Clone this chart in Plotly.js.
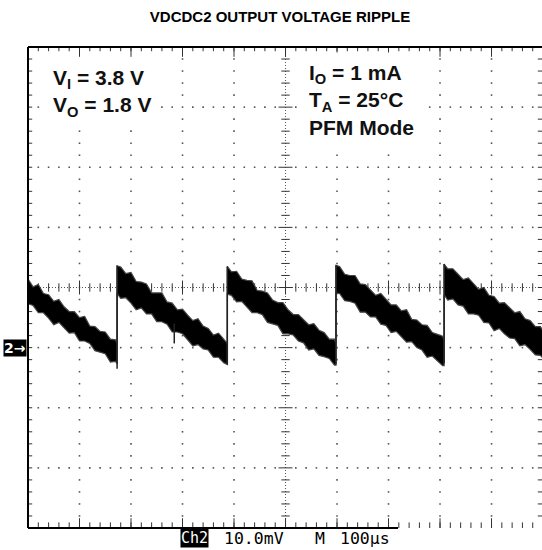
<!DOCTYPE html>
<html><head><meta charset="utf-8">
<script src="https://cdn.plot.ly/plotly-3.0.1.min.js"></script>
<style>html,body{margin:0;padding:0;background:#fff}</style>
</head><body><div id="chart" style="width:542px;height:550px"></div>
<script>
// ---- Data (time in µs, voltage in mV; 10 mV/div, 100 µs/div) ----
// Upper and lower edge of the noisy ripple band, one sawtooth segment per line.
const envTime = [
  0, 10, 20, 30, 40, 50, 60, 70, 80, 90, 100, 110, 120, 130, 140, 150, 160, 170, 173,
  173, 180, 190, 200, 210, 220, 230, 240, 250, 260, 270, 280, 290, 300, 310, 320, 330, 340, 350, 360, 370, 380, 387,
  387, 395, 405, 415, 425, 435, 445, 455, 465, 475, 485, 495, 505, 515, 525, 535, 545, 555, 565, 575, 585, 595, 598,
  598, 605, 615, 625, 635, 645, 655, 665, 675, 685, 695, 705, 715, 725, 735, 745, 755, 765, 775, 785, 795, 805, 808,
  808, 815, 825, 835, 845, 855, 865, 875, 885, 895, 905, 915, 925, 935, 945, 955, 965, 975, 985, 995, 998];
const envUpper = [
  1.4, 0.1, 0.5, -1.0, -1.2, -2.3, -2.0, -3.2, -4.0, -4.0, -5.0, -4.8, -6.4, -6.5, -7.3, -7.4, -8.6, -8.7, -9.3,
  3.6, 3.4, 2.3, 2.5, 1.0, 0.9, 0.6, -0.9, -0.9, -0.9, -2.4, -2.6, -3.7, -3.6, -4.6, -5.5, -5.2, -6.4, -6.8, -7.9, -7.6, -8.7, -9.3,
  3.5, 2.6, 2.7, 1.4, 1.2, 1.1, -0.5, -0.6, -0.9, -2.1, -2.5, -2.5, -3.7, -4.5, -4.5, -5.3, -6.2, -6.0, -7.1, -7.5, -8.6, -8.6, -9.3,
  3.7, 3.5, 2.2, 2.0, 2.0, 0.6, 0.5, -0.4, -1.3, -1.0, -2.0, -2.9, -2.9, -3.9, -3.7, -5.3, -5.4, -6.2, -6.3, -7.5, -7.8, -8.1, -8.8,
  3.9, 3.1, 3.1, 2.2, 1.3, 1.6, 0.6, -0.3, 0.0, -1.3, -1.5, -2.6, -2.5, -3.4, -4.2, -4.0, -5.2, -5.5, -6.5, -6.5, -7.0];
const envLower = [
  -2.7, -3.0, -4.2, -4.2, -5.1, -6.2, -5.8, -6.7, -7.6, -7.5, -8.9, -8.9, -9.3, -10.5, -10.7, -11.0, -12.4, -12.3, -12.7,
  -1.0, -1.8, -1.7, -2.6, -3.7, -3.4, -4.4, -4.4, -5.7, -5.7, -6.1, -7.4, -7.4, -7.7, -8.8, -9.7, -9.5, -10.2, -10.4, -11.6, -11.6, -12.5, -12.8,
  -1.1, -1.3, -2.4, -2.3, -3.3, -4.2, -4.2, -4.5, -5.8, -6.0, -6.3, -7.7, -7.7, -7.9, -8.9, -9.2, -10.4, -10.2, -11.3, -11.5, -11.8, -12.9, -12.9,
  -0.9, -1.0, -2.2, -2.3, -2.6, -4.1, -4.1, -4.9, -4.9, -6.1, -6.3, -7.5, -7.3, -8.2, -9.1, -9.0, -10.0, -10.4, -11.6, -11.4, -12.2, -13.0, -13.0,
  -1.2, -2.1, -1.9, -2.9, -3.1, -4.4, -4.4, -4.6, -5.8, -5.9, -7.2, -6.8, -7.7, -8.4, -8.5, -9.7, -9.5, -10.3, -11.2, -11.3, -11.6];
// Switching edges (vertical jumps) and an isolated noise spike
const jumpTime = [173, 387, 598, 808];
const jumpLow  = [-13.5, -12.8, -12.8, -12.6];
const jumpHigh = [3.6, 3.5, 3.7, 3.9];
const spikeTime = [284];
const spikeLow  = [-9.3];
const spikeHigh = [-6.0];

// ---- Scope labels ----
const titleText = 'VDCDC2 OUTPUT VOLTAGE RIPPLE';
const condLeft  = 'V<sub>I</sub> = 3.8 V<br>V<sub>O</sub> = 1.8 V';
const condRight = 'I<sub>O</sub> = 1 mA<br>T<sub>A</sub> = 25°C<br>PFM Mode';
const chLabel = 'Ch2', voltsDiv = '10.0mV', timeLabelM = 'M', timeDiv = '100µs';
const groundMarker = '2→';
const groundLevel = -10;
const xMax = 998, yMin = -40, yMax = 40;

// ---- graticule helpers ----
function seq(a, b, s) { const r = []; for (let v = a; v <= b + 1e-9; v += s) r.push(Math.round(v * 1000) / 1000); return r; }
const gx = [], gy = [];
const vLines = [100, 200, 300, 400, 600, 700, 800, 900];
const hLines = [-30, -20, -10, 10, 20, 30];
vLines.forEach(x => seq(-38, 38, 2).forEach(y => { gx.push(x); gy.push(y); }));
hLines.forEach(y => seq(20, 980, 20).forEach(x => { if (x !== 500 && x % 100 !== 0) { gx.push(x); gy.push(y); } }));

const minorX = seq(20, 980, 20).filter(v => v % 100 !== 0);
const majorX = seq(100, 900, 100);
const allX = seq(20, 980, 20);
const minorY = seq(-38, 38, 2).filter(v => v % 10 !== 0);
const majorY = seq(-30, 30, 10);
const allY = seq(-38, 38, 2);

const tickCol = '#333';
function tickTrace(xs, ys, sym, size) {
  return { x: xs, y: ys, type: 'scatter', mode: 'markers', hoverinfo: 'skip', showlegend: false, cliponaxis: true,
    marker: { symbol: sym, size: size, color: tickCol, line: { width: 1, color: tickCol } } };
}

const traces = [
  { x: gx, y: gy, type: 'scatter', mode: 'markers', hoverinfo: 'skip', showlegend: false,
    marker: { symbol: 'square', size: 1.6, color: '#555', line: { width: 0 } } },
  tickTrace(minorX, minorX.map(() => 0), 'line-ns', 6),
  tickTrace(majorX, majorX.map(() => 0), 'line-ns', 10),
  tickTrace(minorY.map(() => 500), minorY, 'line-ew', 6),
  tickTrace(majorY.map(() => 500), majorY, 'line-ew', 10),
  tickTrace(allX, allX.map(() => yMax), 'line-ns', 6),
  tickTrace(majorX, majorX.map(() => yMax), 'line-ns', 14),
  tickTrace(allX, allX.map(() => yMin), 'line-ns', 8),
  tickTrace(majorX, majorX.map(() => yMin), 'line-ns', 14),
  tickTrace(allY.map(() => 0), allY, 'line-ew', 6),
  tickTrace(allY.map(() => xMax), allY, 'line-ew', 6),
  { x: envTime, y: envUpper, type: 'scatter', mode: 'lines', hoverinfo: 'skip', showlegend: false,
    line: { color: '#444', width: 1.2 } },
  { x: envTime, y: envLower, type: 'scatter', mode: 'lines', fill: 'tonexty', fillcolor: '#000', hoverinfo: 'skip', showlegend: false,
    line: { color: '#444', width: 1.2 } },
];
const jx = [], jy = [];
jumpTime.forEach((t, i) => { jx.push(t, t, null); jy.push(jumpLow[i], jumpHigh[i], null); });
spikeTime.forEach((t, i) => { jx.push(t, t, null); jy.push(spikeLow[i], spikeHigh[i], null); });
traces.push({ x: jx, y: jy, type: 'scatter', mode: 'lines', hoverinfo: 'skip', showlegend: false,
  line: { color: '#222', width: 1.5 } });

const W = 542, H = 550, mL = 28, mR = 0, mT = 47, mB = 22;
const pw = W - mL - mR, ph = H - mT - mB;
const px = v => (v - mL) / pw;
const py = v => (H - mB - v) / ph;
const sans = 'Liberation Sans, Arial, sans-serif';
const mono = 'DejaVu Sans Mono, monospace';

const layout = {
  width: W, height: H,
  margin: { l: mL, r: mR, t: mT, b: mB, pad: 0 },
  paper_bgcolor: '#fff', plot_bgcolor: '#fff',
  showlegend: false,
  title: { text: '<b>' + titleText + '</b>', font: { family: sans, size: 15, color: '#000' },
    x: 280 / W, xanchor: 'center', y: 1 - 17 / H, yanchor: 'middle' },
  xaxis: { range: [0, xMax], showgrid: false, zeroline: false, showticklabels: false, ticks: '', showline: false, fixedrange: true },
  yaxis: { range: [yMin, yMax], showgrid: false, zeroline: false, showticklabels: false, ticks: '', showline: false, fixedrange: true },
  shapes: [
    { type: 'line', xref: 'x', yref: 'y', x0: 0, x1: xMax, y0: 0, y1: 0, layer: 'below', line: { color: '#555', width: 1, dash: '1px,2px' } },
    { type: 'line', xref: 'x', yref: 'y', x0: 500, x1: 500, y0: yMin, y1: yMax, layer: 'below', line: { color: '#555', width: 1, dash: '1px,2px' } },
    { type: 'line', xref: 'paper', yref: 'paper', x0: 0, x1: 0, y0: 0, y1: 1, line: { color: '#000', width: 2 } },
    { type: 'line', xref: 'paper', yref: 'paper', x0: 0, x1: 1.01, y0: 1, y1: 1, line: { color: '#000', width: 2 } },
    { type: 'line', xref: 'paper', yref: 'paper', x0: 0, x1: px(398), y0: 0, y1: 0, line: { color: '#000', width: 2 } },
  ],
  annotations: [
    { text: condLeft, xref: 'paper', yref: 'paper', x: px(44), y: py(57), xanchor: 'left', yanchor: 'top', align: 'left',
      showarrow: false, bgcolor: '#fff', borderpad: 8,
      font: { family: sans, size: 21, color: '#111', weight: 'bold' } },
    { text: condRight, xref: 'paper', yref: 'paper', x: px(300), y: py(52), xanchor: 'left', yanchor: 'top', align: 'left',
      showarrow: false, bgcolor: '#fff', borderpad: 8,
      font: { family: sans, size: 21, color: '#111', weight: 'bold' } },
    { text: groundMarker, xref: 'paper', yref: 'y', x: 0, y: groundLevel, xanchor: 'right', yanchor: 'middle', xshift: -1,
      showarrow: false, bgcolor: '#000', borderpad: 0,
      font: { family: 'DejaVu Sans, sans-serif', size: 14, color: '#fff', weight: 'bold' } },
    { text: chLabel, xref: 'paper', yref: 'paper', x: px(180), y: py(538), xanchor: 'left', yanchor: 'middle',
      showarrow: false, bgcolor: '#000', borderpad: 0,
      font: { family: mono, size: 15, color: '#fff' } },
    { text: voltsDiv, xref: 'paper', yref: 'paper', x: px(222), y: py(538), xanchor: 'left', yanchor: 'middle',
      showarrow: false, font: { family: mono, size: 16.5, color: '#000' } },
    { text: timeLabelM, xref: 'paper', yref: 'paper', x: px(313), y: py(538), xanchor: 'left', yanchor: 'middle',
      showarrow: false, font: { family: mono, size: 16.5, color: '#000' } },
    { text: timeDiv, xref: 'paper', yref: 'paper', x: px(338), y: py(538), xanchor: 'left', yanchor: 'middle',
      showarrow: false, font: { family: mono, size: 16.5, color: '#000' } },
  ]
};

Plotly.newPlot('chart', traces, layout, { staticPlot: true, displayModeBar: false });
</script>
</body></html>
